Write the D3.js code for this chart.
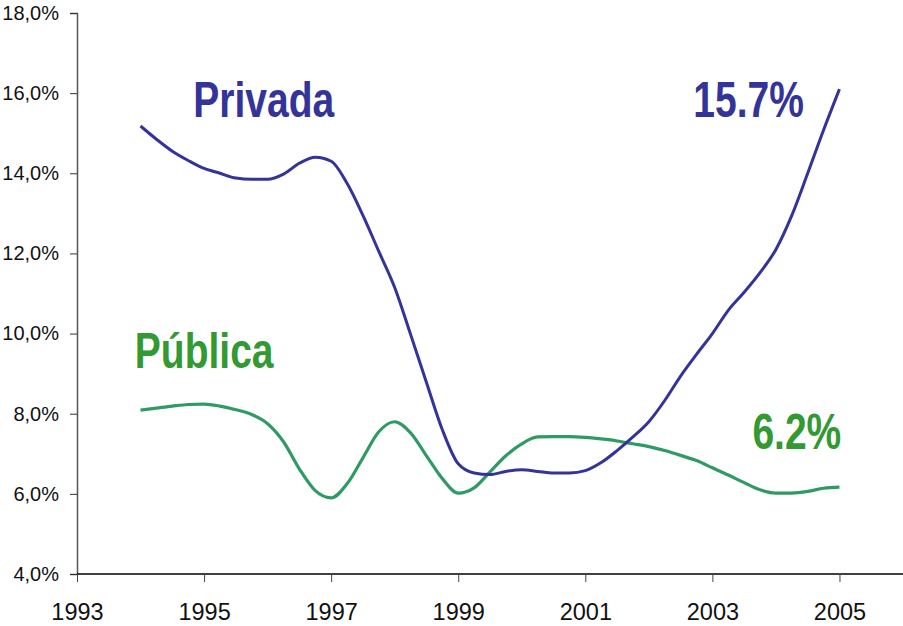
<!DOCTYPE html>
<html>
<head>
<meta charset="utf-8">
<script src="https://cdn.jsdelivr.net/npm/d3@7"></script>
<style>
  body { margin: 0; background: #fff; }
  svg { display: block; }
</style>
</head>
<body>
<div id="chart"></div>
<script>
// quarterly points
const years = [
  1994.00, 1994.25, 1994.50, 1994.75, 1995.00, 1995.25, 1995.50, 1995.75,
  1996.00, 1996.25, 1996.50, 1996.75, 1997.00, 1997.25, 1997.50, 1997.75,
  1998.00, 1998.25, 1998.50, 1998.75, 1999.00, 1999.25, 1999.50, 1999.75,
  2000.00, 2000.25, 2000.50, 2000.75, 2001.00, 2001.25, 2001.50, 2001.75,
  2002.00, 2002.25, 2002.50, 2002.75, 2003.00, 2003.25, 2003.50, 2003.75,
  2004.00, 2004.25, 2004.50, 2004.75, 2005.00
];
const privada = [
  15.18, 14.85, 14.55, 14.32, 14.12, 14.00, 13.88, 13.85,
  13.85, 13.98, 14.25, 14.40, 14.30, 13.75, 12.95, 12.05,
  11.15, 9.98, 8.78, 7.60, 6.75, 6.52, 6.48, 6.56,
  6.60, 6.56, 6.52, 6.52, 6.58, 6.78, 7.08, 7.42,
  7.80, 8.33, 8.94, 9.48, 10.00, 10.58, 11.03, 11.52,
  12.10, 12.95, 14.00, 15.08, 16.10
];
const publica = [
  8.09, 8.14, 8.19, 8.23, 8.24, 8.19, 8.10, 7.98,
  7.75, 7.30, 6.62, 6.08, 5.90, 6.25, 6.90, 7.55,
  7.80, 7.52, 6.95, 6.38, 6.02, 6.15, 6.55, 6.95,
  7.25, 7.42, 7.43, 7.43, 7.41, 7.37, 7.32, 7.25,
  7.18, 7.08, 6.96, 6.83, 6.65, 6.47, 6.28, 6.10,
  6.02, 6.02, 6.06, 6.14, 6.17
];
const yTicks = [4, 6, 8, 10, 12, 14, 16, 18];
const xTicks = [1993, 1995, 1997, 1999, 2001, 2003, 2005];

const labels = [
  { text: "Privada", year: 1994.83, value: 15.40, color: "#333399" },
  { text: "Pública", year: 1993.91, value: 9.14, color: "#339933" },
  { text: "15.7%", year: 2002.70, value: 15.40, color: "#333399" },
  { text: "6.2%", year: 2003.63, value: 7.12, color: "#339933" }
];

const width = 903, height = 626;
const margin = { top: 13, right: 0, bottom: 52, left: 77 };

const svg = d3.select("#chart").append("svg")
  .attr("width", width)
  .attr("height", height);

const x = d3.scaleLinear()
  .domain([1993, 2006])
  .range([margin.left, width - margin.right]);
const y = d3.scaleLinear()
  .domain([4, 18])
  .range([height - margin.bottom, margin.top]);

// y axis
const yAxis = svg.append("g")
  .attr("transform", `translate(${margin.left},0)`)
  .call(d3.axisLeft(y).tickValues(yTicks).tickSize(7).tickPadding(11)
    .tickFormat(d => d3.format(".1f")(d).replace(".", ",") + "%"));
yAxis.select(".domain").attr("stroke", "#555").attr("stroke-width", 1.5);
yAxis.selectAll(".tick line").attr("stroke", "#333");
yAxis.selectAll("text")
  .attr("font-family", "Liberation Sans, Arial, sans-serif")
  .attr("font-size", 20)
  .attr("fill", "#111");

// x axis
const xAxis = svg.append("g")
  .attr("transform", `translate(0,${y(4)})`)
  .call(d3.axisBottom(x).tickValues(xTicks).tickSize(8).tickPadding(21)
    .tickFormat(d3.format("d")));
xAxis.select(".domain").attr("stroke", "#000").attr("stroke-width", 1.5)
  .attr("d", `M${x(1993)},0H${x(2006)}`);
xAxis.selectAll(".tick line").attr("stroke", "#444");
xAxis.selectAll("text")
  .attr("font-family", "Liberation Sans, Arial, sans-serif")
  .attr("font-size", 23.5)
  .attr("fill", "#111");

const line = d3.line()
  .x((d, i) => x(years[i]))
  .y(d => y(d))
  .curve(d3.curveMonotoneX);

svg.append("path")
  .datum(publica)
  .attr("fill", "none")
  .attr("stroke", "#2f9a64")
  .attr("stroke-width", 3.2)
  .attr("stroke-linejoin", "round")
  .attr("d", line);

svg.append("path")
  .datum(privada)
  .attr("fill", "none")
  .attr("stroke", "#333399")
  .attr("stroke-width", 3)
  .attr("stroke-linejoin", "round")
  .attr("d", line);

// condensed bold labels (no narrow font installed, so squeeze horizontally)
svg.selectAll(".lbl")
  .data(labels)
  .enter()
  .append("text")
  .attr("class", "lbl")
  .attr("transform", d => `translate(${x(d.year)},${y(d.value)}) scale(0.78,1)`)
  .attr("font-family", "Liberation Sans, Arial, sans-serif")
  .attr("font-weight", "bold")
  .attr("font-size", 50)
  .attr("fill", d => d.color)
  .text(d => d.text);
</script>
</body>
</html>
